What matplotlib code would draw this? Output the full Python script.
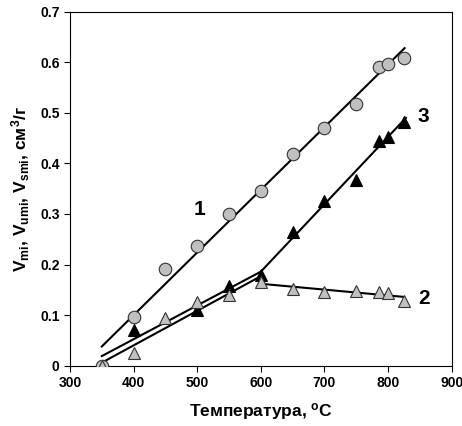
import matplotlib.pyplot as plt

plt.rcParams['font.family'] = ['Liberation Sans', 'DejaVu Sans']
plt.rcParams['font.weight'] = 'bold'
plt.rcParams['mathtext.fontset'] = 'custom'
plt.rcParams['mathtext.rm'] = 'Liberation Sans:bold'
plt.rcParams['mathtext.bf'] = 'Liberation Sans:bold'
plt.rcParams['mathtext.default'] = 'bf'

# серия 1 (серые кружки)
t1 = [350, 400, 450, 500, 550, 600, 650, 700, 750, 785, 800, 825]
v1 = [0.0, 0.097, 0.192, 0.237, 0.300, 0.345, 0.418, 0.470, 0.517, 0.590, 0.597, 0.608]

# серия 2 (серые треугольники)
t2 = [350, 400, 450, 500, 550, 600, 650, 700, 750, 785, 800, 825]
v2 = [0.0, 0.025, 0.095, 0.125, 0.140, 0.165, 0.152, 0.145, 0.148, 0.145, 0.143, 0.128]

# серия 3 (черные треугольники)
t3 = [400, 500, 550, 600, 650, 700, 750, 785, 800, 825]
v3 = [0.070, 0.110, 0.158, 0.180, 0.265, 0.326, 0.367, 0.444, 0.453, 0.481]

# линии аппроксимации
fit1_t = [350, 826]
fit1_v = [0.038, 0.628]
fit2a_t = [350, 600]
fit2a_v = [0.006, 0.177]
fit2b_t = [600, 825]
fit2b_v = [0.162, 0.136]
fit3a_t = [350, 600]
fit3a_v = [0.019, 0.186]
fit3b_t = [600, 828]
fit3b_v = [0.186, 0.490]

fig = plt.figure(figsize=(4.62, 4.26), dpi=100)
ax = fig.add_axes([70 / 462, 1 - 365.7 / 426, 381.7 / 462, 354 / 426])

for tt, vv in [(fit1_t, fit1_v), (fit2a_t, fit2a_v), (fit2b_t, fit2b_v),
               (fit3a_t, fit3a_v), (fit3b_t, fit3b_v)]:
    ax.plot(tt, vv, color='black', lw=1.5, zorder=2)

ax.plot(t1, v1, 'o', ms=9, mfc='#c0c0c0', mec='#333333', mew=0.8, zorder=3)
ax.plot(t3, v3, '^', ms=9, mfc='black', mec='black', mew=0.8, zorder=3)
ax.plot(t2, v2, '^', ms=9, mfc='#c0c0c0', mec='#333333', mew=0.8, zorder=4)

ax.text(504, 0.308, '1', fontsize=15, fontweight='bold', ha='center', va='center')
ax.text(856, 0.492, '3', fontsize=15, fontweight='bold', ha='center', va='center')
ax.text(856, 0.133, '2', fontsize=15, fontweight='bold', ha='center', va='center')

ax.set_xlim(300, 900)
ax.set_ylim(0, 0.7)
ax.set_xticks(range(300, 901, 100))
ax.set_yticks([0, 0.1, 0.2, 0.3, 0.4, 0.5, 0.6, 0.7])
ax.set_yticklabels(['0', '0.1', '0.2', '0.3', '0.4', '0.5', '0.6', '0.7'])
ax.tick_params(direction='out', length=4, labelsize=10, top=False, right=False)
for lab in ax.get_xticklabels() + ax.get_yticklabels():
    lab.set_fontweight('bold')

ax.set_xlabel('Температура, $^{o}$C', fontsize=12.5, fontweight='bold', labelpad=8)
ax.set_ylabel('V$_{mi}$, V$_{umi}$, V$_{smi}$, см$^{3}$/г', fontsize=12.5,
              fontweight='bold', labelpad=6)

fig.savefig('out.png', dpi=100)
